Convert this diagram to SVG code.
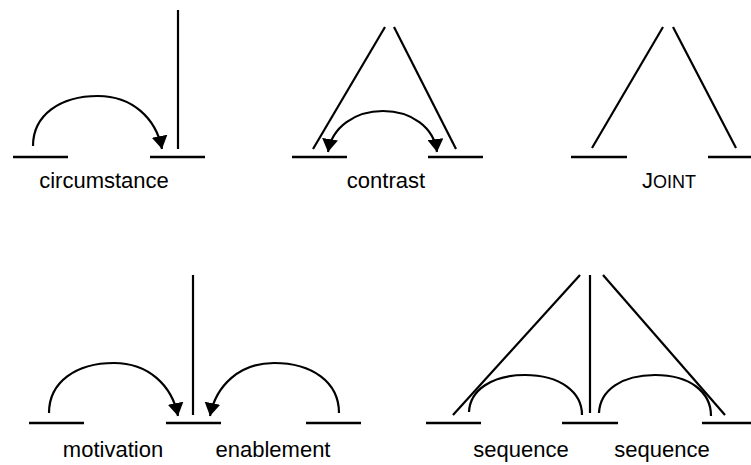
<svg xmlns="http://www.w3.org/2000/svg" width="751" height="465" viewBox="0 0 751 465">
  <style>
    .seg { stroke: #000; stroke-width: 2.4; fill: none; }
    .ln { stroke: #000; stroke-width: 2.2; fill: none; }
    .arc { stroke: #000; stroke-width: 2.2; fill: none; }
    .lbl { font-family: "Liberation Sans", Arial, sans-serif; font-size: 22px; fill: #000; text-anchor: middle; }
  </style>
  <defs>
    <marker id="arrow" markerUnits="userSpaceOnUse" viewBox="0 0 13 16" refX="13" refY="8" markerWidth="13" markerHeight="16" orient="auto-start-reverse">
      <path d="M0,0 L13,8 L0,16 z" fill="#000"/>
    </marker>
  </defs>
  <rect width="751" height="465" fill="#fff"/>

  <!-- circumstance -->
  <g id="circumstance">
    <g id="circ-span1"><line class="seg" x1="13" y1="157" x2="68" y2="157"/></g>
    <g id="circ-span2"><line class="seg" x1="150" y1="157" x2="205" y2="157"/></g>
    <g id="circ-connectors">
      <line class="ln" x1="178" y1="10" x2="178" y2="149"/>
      <path class="arc" d="M33,146 C33,115 60,96 98,96 C132,96 156,118 162,149" marker-end="url(#arrow)"/>
    </g>
    <text class="lbl" x="104" y="188">circumstance</text>
  </g>

  <!-- contrast -->
  <g id="contrast">
    <g id="con-span1"><line class="seg" x1="292" y1="157" x2="347" y2="157"/></g>
    <g id="con-span2"><line class="seg" x1="428" y1="157" x2="483" y2="157"/></g>
    <g id="con-connectors">
      <line class="ln" x1="313" y1="149" x2="385" y2="27"/>
      <line class="ln" x1="394" y1="27" x2="456" y2="149"/>
      <path class="arc" d="M328,152 C332,127 355,111 383,111 C411,111 434,127 437,152" marker-start="url(#arrow)" marker-end="url(#arrow)"/>
    </g>
    <text class="lbl" x="386" y="188">contrast</text>
  </g>

  <!-- joint -->
  <g id="joint">
    <g id="joint-span1"><line class="seg" x1="571" y1="157" x2="627" y2="157"/></g>
    <g id="joint-span2"><line class="seg" x1="708" y1="157" x2="763" y2="157"/></g>
    <g id="joint-connectors">
      <line class="ln" x1="592" y1="148" x2="663" y2="27"/>
      <line class="ln" x1="673" y1="27" x2="736" y2="148"/>
    </g>
    <text class="lbl" x="669" y="188">J<tspan font-size="18">OINT</tspan></text>
  </g>

  <!-- motivation / enablement -->
  <g id="motivation-enablement">
    <g id="me-span1"><line class="seg" x1="29" y1="423" x2="84" y2="423"/></g>
    <g id="me-span2"><line class="seg" x1="166" y1="423" x2="221" y2="423"/></g>
    <g id="me-span3"><line class="seg" x1="306" y1="423" x2="361" y2="423"/></g>
    <g id="me-connectors">
      <line class="ln" x1="193" y1="275" x2="193" y2="415"/>
      <path class="arc" d="M49,413 C49,382 76,363 114,363 C148,363 172,385 178,416" marker-end="url(#arrow)"/>
      <path class="arc" d="M339,413 C339,382 312,363 274,363 C240,363 216,385 210,416" marker-end="url(#arrow)"/>
    </g>
    <text class="lbl" x="113" y="457">motivation</text>
    <text class="lbl" x="273" y="457">enablement</text>
  </g>

  <!-- sequence -->
  <g id="sequence">
    <g id="seq-span1"><line class="seg" x1="426" y1="423" x2="481" y2="423"/></g>
    <g id="seq-span2"><line class="seg" x1="562" y1="423" x2="618" y2="423"/></g>
    <g id="seq-span3"><line class="seg" x1="702" y1="423" x2="757" y2="423"/></g>
    <g id="seq-connectors">
      <line class="ln" x1="453" y1="415" x2="580" y2="275"/>
      <line class="ln" x1="590" y1="275" x2="590" y2="413"/>
      <line class="ln" x1="603" y1="275" x2="725" y2="415"/>
      <path class="arc" d="M469,412 C470,390 492,375 525,375 C560,375 582,392 582,415"/>
      <path class="arc" d="M599,413 C600,390 622,375 655,375 C690,375 711,392 711,416"/>
    </g>
    <text class="lbl" x="521" y="457">sequence</text>
    <text class="lbl" x="662" y="457">sequence</text>
  </g>
</svg>
